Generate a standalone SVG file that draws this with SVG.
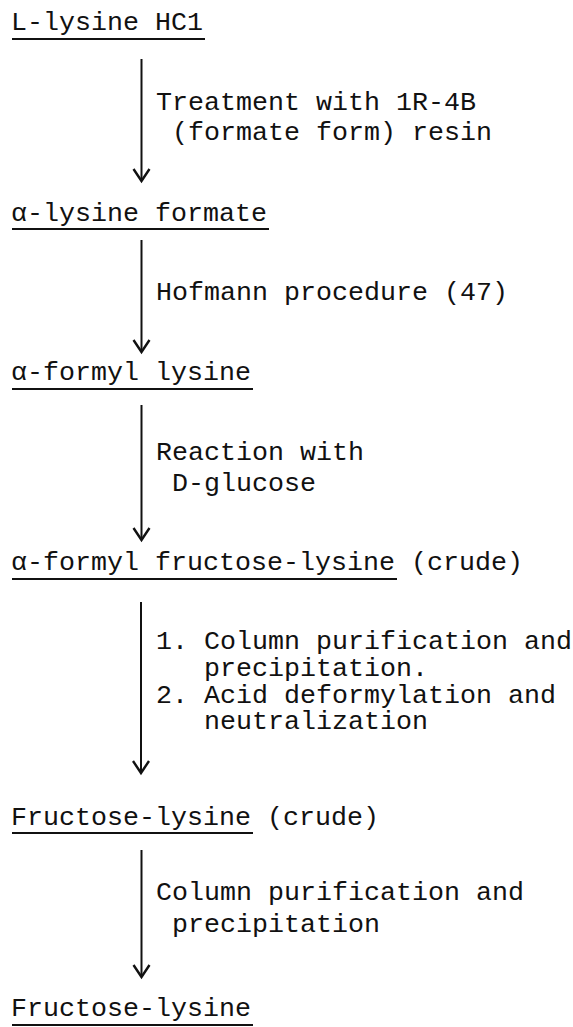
<svg xmlns="http://www.w3.org/2000/svg" width="573" height="1027" viewBox="0 0 573 1027">
  <style>
    text { font-family: "Liberation Mono", "DejaVu Sans Mono", monospace; font-size: 26.67px; fill: #111; }
    .ul { stroke: #111; stroke-width: 2; }
    .shaft { stroke: #111; stroke-width: 2; fill: none; }
    .head { stroke: #111; stroke-width: 2.4; fill: none; stroke-linejoin: miter; }
  </style>
  <rect width="573" height="1027" fill="#fff"/>

  <!-- compounds, underlined -->
  <g id="lysine-hcl">
    <text x="11" y="30">L-lysine HC1</text>
    <line class="ul" x1="12" y1="39" x2="205" y2="39"/>
  </g>
  <g id="lysine-formate">
    <text x="11" y="221">α-lysine formate</text>
    <line class="ul" x1="12" y1="229" x2="269" y2="229"/>
  </g>
  <g id="formyl-lysine">
    <text x="11" y="380">α-formyl lysine</text>
    <line class="ul" x1="12" y1="389" x2="253" y2="389"/>
  </g>
  <g id="formyl-fructose-lysine">
    <text x="11" y="570">α-formyl fructose-lysine (crude)</text>
    <line class="ul" x1="12" y1="579" x2="397" y2="579"/>
  </g>
  <g id="fructose-lysine-crude">
    <text x="11" y="825">Fructose-lysine (crude)</text>
    <line class="ul" x1="12" y1="833" x2="253" y2="833"/>
  </g>
  <g id="fructose-lysine">
    <text x="11" y="1016">Fructose-lysine</text>
    <line class="ul" x1="12" y1="1025" x2="253" y2="1025"/>
  </g>

  <!-- reaction arrows -->
  <g id="connectors">
    <line class="shaft" x1="141.5" y1="59" x2="141.5" y2="180"/>
    <path class="head" d="M133.5 169 L141.5 181 L149.5 169"/>
    <line class="shaft" x1="141.5" y1="240" x2="141.5" y2="351"/>
    <path class="head" d="M133.5 340 L141.5 352 L149.5 340"/>
    <line class="shaft" x1="141.5" y1="405" x2="141.5" y2="539"/>
    <path class="head" d="M133.5 528 L141.5 540 L149.5 528"/>
    <line class="shaft" x1="141" y1="602" x2="141" y2="772"/>
    <path class="head" d="M133 761 L141 773 L149 761"/>
    <line class="shaft" x1="141.5" y1="850" x2="141.5" y2="976"/>
    <path class="head" d="M133.5 965 L141.5 977 L149.5 965"/>
  </g>

  <!-- step labels -->
  <g id="labels">
    <text x="156" y="110">Treatment with 1R-4B</text>
    <text x="172" y="140">(formate form) resin</text>
    <text x="156" y="300">Hofmann procedure (47)</text>
    <text x="156" y="460">Reaction with</text>
    <text x="172" y="491">D-glucose</text>
    <text x="156" y="649">1. Column purification and</text>
    <text x="204" y="676">precipitation.</text>
    <text x="156" y="703">2. Acid deformylation and</text>
    <text x="204" y="729">neutralization</text>
    <text x="156" y="900">Column purification and</text>
    <text x="172" y="932">precipitation</text>
  </g>
</svg>
